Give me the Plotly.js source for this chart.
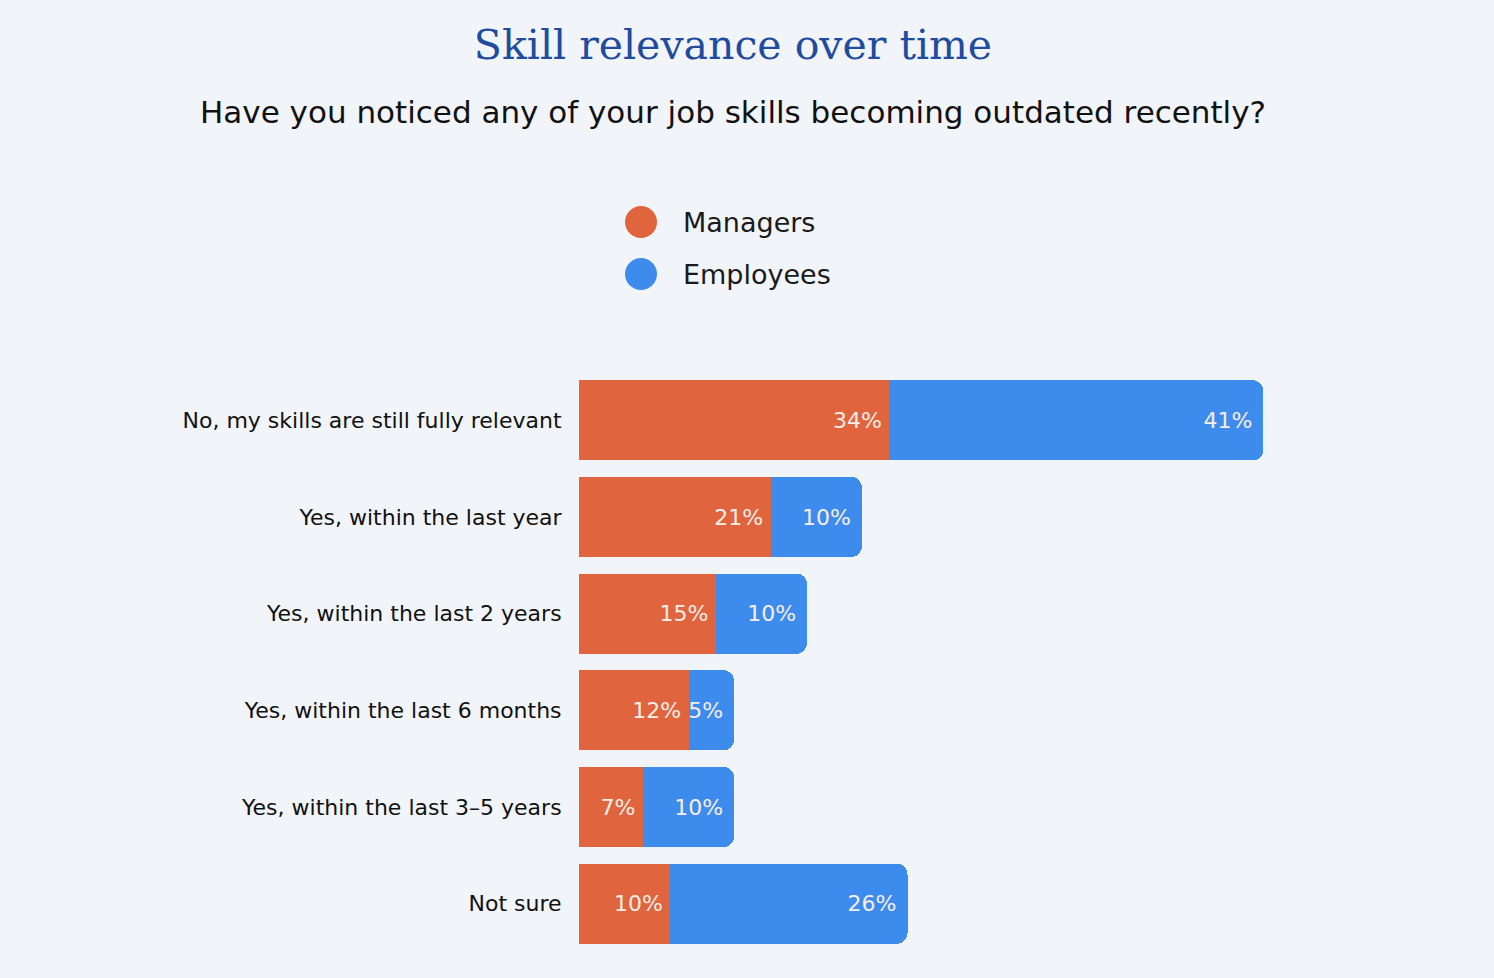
<!DOCTYPE html>
<html>
<head>
<meta charset="utf-8">
<script src="https://cdn.plot.ly/plotly-3.0.1.min.js"></script>
<style>html,body{margin:0;padding:0;background:#F1F4F9;}#chart{width:1494px;height:978px;}</style>
</head>
<body>
<div id="chart"></div>
<script>
const categories = [
  "No, my skills are still fully relevant",
  "Yes, within the last year",
  "Yes, within the last 2 years",
  "Yes, within the last 6 months",
  "Yes, within the last 3\u20135 years",
  "Not sure"
];
const managers = [34, 21, 15, 12, 7, 10];
const employees = [41, 10, 10, 5, 10, 26];
const seriesNames = ["Managers", "Employees"];
const titleText = "Skill relevance over time";
const subtitleText = "Have you noticed any of your job skills becoming outdated recently?";

const W = 1494, H = 978;
const mL = 579, mR = 185, mT = 372, mB = 26;
const plotH = H - mT - mB, plotW = W - mL - mR;
const py = (pix) => (H - mB - pix) / plotH;   // pixel y -> paper y
const px = (pix) => (pix - mL) / plotW;       // pixel x -> paper x

const ORANGE = "#E0643D", BLUE = "#3E8BEE";
const SANS = "'DejaVu Sans', 'Open Sans', sans-serif";
const txtColor = "#F6EEE8";

const traces = [
  {type:"bar", orientation:"h", name:seriesNames[0], y:categories, x:managers,
   marker:{color:ORANGE}, text:managers.map(v => v + "%\u2009"), textposition:"inside",
   insidetextanchor:"end", textfont:{family:SANS,size:22,color:txtColor},
   hoverinfo:"skip", cliponaxis:false},
  {type:"bar", orientation:"h", name:seriesNames[1], y:categories, x:employees,
   marker:{color:BLUE}, text:employees.map(v => v + "%"), textposition:"inside",
   insidetextanchor:"end", textfont:{family:SANS,size:22,color:txtColor},
   hoverinfo:"skip", cliponaxis:false}
];

const legendY = [222, 274];
const shapes = [], annotations = [];
[ORANGE, BLUE].forEach((c,i)=>{
  shapes.push({type:"circle", xref:"paper", yref:"paper", xsizemode:"pixel", ysizemode:"pixel",
    xanchor:px(641), yanchor:py(legendY[i]), x0:-16, x1:16, y0:-16, y1:16,
    fillcolor:c, line:{width:0}});
  annotations.push({xref:"paper", yref:"paper", x:px(681), y:py(legendY[i]), xanchor:"left", yanchor:"middle",
    text:seriesNames[i], showarrow:false, font:{family:SANS,size:27,color:"#1a1a1a"}});
});
annotations.push({xref:"paper", yref:"paper", x:px(733), y:py(112), xanchor:"center", yanchor:"middle",
  text:subtitleText, showarrow:false, font:{family:SANS,size:31,color:"#111"}});

const layout = {
  width:W, height:H, paper_bgcolor:"#F1F4F9", plot_bgcolor:"#F1F4F9",
  margin:{l:mL, r:mR, t:mT, b:mB, pad:0},
  barmode:"stack", bargap:0.17, barcornerradius:11, showlegend:false,
  title:{text:titleText, x:733/W, xanchor:"center", y:1-45/H, yanchor:"middle", yref:"container",
    font:{family:"'DejaVu Serif', serif", size:41, color:"#1F4C9E", weight:"normal"}},
  xaxis:{range:[0,80], visible:false, fixedrange:true},
  yaxis:{autorange:"reversed", showgrid:false, zeroline:false, showline:false, ticks:"outside",
    ticklen:12, tickcolor:"rgba(0,0,0,0)", tickfont:{family:SANS,size:22,color:"#111"}},
  shapes:shapes, annotations:annotations
};
Plotly.newPlot("chart", traces, layout, {displayModeBar:false, staticPlot:true});
</script>
</body>
</html>
